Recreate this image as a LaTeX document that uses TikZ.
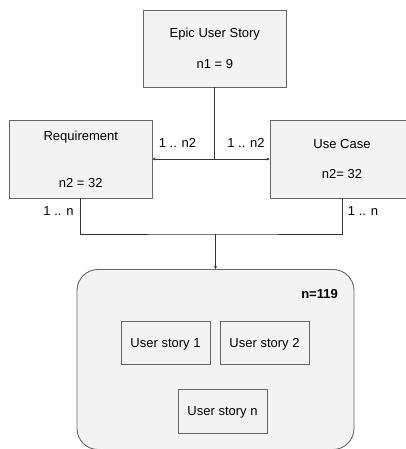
\documentclass[tikz,border=0pt]{standalone}
\usepackage{fontspec}
\setmainfont{Liberation Sans}
\usetikzlibrary{arrows.meta}
\definecolor{boxfill}{HTML}{F3F3F3}
\definecolor{boxline}{HTML}{666666}
\definecolor{conn}{HTML}{333333}
\begin{document}
\begin{tikzpicture}[x=1pt,y=-1pt,
  every node/.style={font=\fontsize{13}{15}\selectfont, text=black, inner sep=0pt},
  box/.style={draw=boxline, fill=boxfill, line width=0.9pt, align=center, text depth=0pt},
  conn/.style={draw=conn, line width=0.8pt},
  arr/.style={conn, -{Stealth[length=3pt,width=3pt]}}
]
\useasboundingbox (0,0) rectangle (406,449);
\clip (0,0) rectangle (406,449);
% group box
\node[box, rounded corners=21pt, minimum width=277pt, minimum height=180pt] (grp) at (215.5,359.5) {};
\node[font=\fontsize{13}{15}\selectfont\bfseries] (ncount) at (319.5,294) {n=119};
\node[box, minimum width=89pt, minimum height=42.5pt] (us1) at (165.5,343) {User story 1};
\node[box, minimum width=89pt, minimum height=42.5pt] (us2) at (264.5,343) {User story 2};
\node[box, minimum width=89pt, minimum height=43.5pt] (usn) at (222.5,411.5) {User story n};
% top boxes
\node[box, minimum width=142.5pt, minimum height=77pt] (epic) at (214.8,48.5) {Epic User Story\\[16pt]n1 = 9};
\node[box, minimum width=142.5pt, minimum height=78pt] (req) at (80.8,159) {Requirement\\[32pt]n2 = 32};
\node[box, minimum width=144pt, minimum height=78pt] (uc) at (342,159) {Use Case\\[15pt]n2= 32};
% connectors
\draw[arr] (epic.south) |- (req.east);
\draw[arr] (epic.south) |- (uc.west);
\coordinate (j) at (215.5,234);
\draw[conn] (req.south) |- (j) -| (uc.south);
\draw[arr] (j) -- (grp.north);
% labels
\node (l1) at (177.5,143) {1 .. n2};
\node (l2) at (246,143) {1 .. n2};
\node (l3) at (58.5,211) {1 .. n};
\node (l4) at (363,211) {1 .. n};
\end{tikzpicture}
\end{document}
